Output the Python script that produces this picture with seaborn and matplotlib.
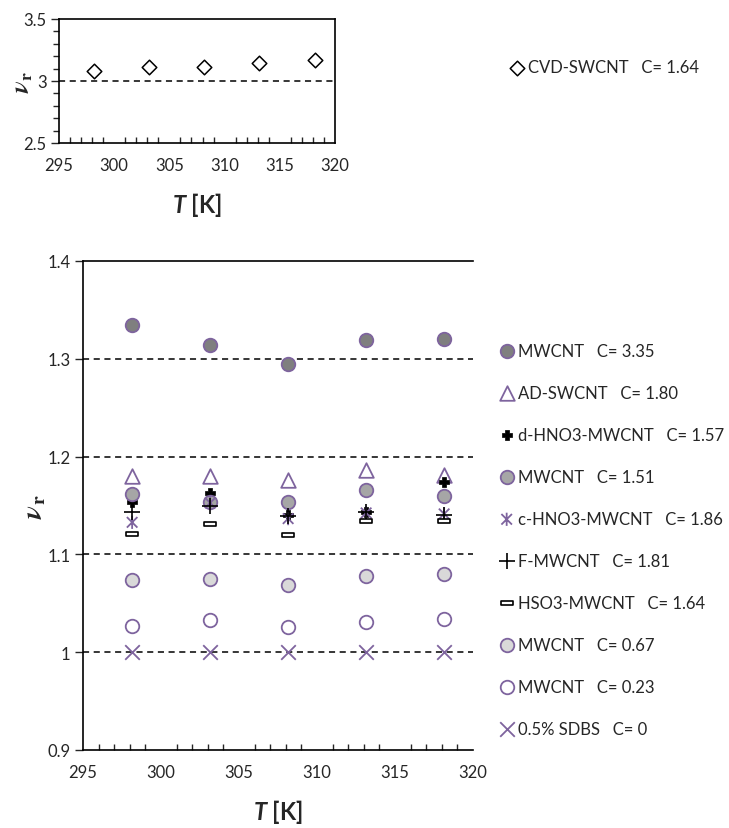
import numpy as np
import pandas as pd
import matplotlib
matplotlib.use("Agg")
import matplotlib.pyplot as plt
from matplotlib.path import Path
from matplotlib.ticker import MultipleLocator
import seaborn as sns

sns.set_style("white")
plt.rcParams['font.family'] = ['Lato', 'DejaVu Sans']
plt.rcParams['mathtext.fontset'] = 'custom'
plt.rcParams['mathtext.rm'] = 'Lato:bold'
plt.rcParams['mathtext.bf'] = 'Lato:bold'
plt.rcParams['mathtext.it'] = 'Lato:italic:bold'

# ---------------- data ----------------
T = [298.15, 303.15, 308.15, 313.15, 318.15]

cvd_swcnt = [3.083, 3.115, 3.115, 3.145, 3.167]

mwcnt_335 = [1.335, 1.3145, 1.295, 1.319, 1.3205]
ad_swcnt = [1.180, 1.1805, 1.1758, 1.1868, 1.1813]
d_hno3 = [1.154, 1.163, 1.140, 1.143, 1.1738]
mwcnt_151 = [1.1622, 1.1533, 1.1537, 1.166, 1.1594]
c_hno3 = [1.1328, 1.1527, 1.1366, 1.1424, 1.1414]
f_mwcnt = [1.1434, 1.150, 1.1397, 1.143, 1.1407]
hso3 = [1.1212, 1.1315, 1.1202, 1.1346, 1.1338]
mwcnt_067 = [1.0738, 1.0744, 1.069, 1.0779, 1.080]
mwcnt_023 = [1.0273, 1.0328, 1.0256, 1.0307, 1.0341]
sdbs = [1.0, 1.0, 1.0, 1.0, 1.0]

labels_top = ["CVD-SWCNT   C= 1.64"]
labels_bottom = ["MWCNT   C= 3.35", "AD-SWCNT   C= 1.80", "d-HNO3-MWCNT   C= 1.57",
                 "MWCNT   C= 1.51", "c-HNO3-MWCNT   C= 1.86", "F-MWCNT   C= 1.81",
                 "HSO3-MWCNT   C= 1.64", "MWCNT   C= 0.67", "MWCNT   C= 0.23",
                 "0.5% SDBS   C= 0"]

# ---------------- styles ----------------
purple = '#7E649E'
asterisk = Path([(-1, -1), (1, 1), (-1, 1), (1, -1), (0, -1.25), (0, 1.25)],
                [Path.MOVETO, Path.LINETO, Path.MOVETO, Path.LINETO, Path.MOVETO, Path.LINETO])
bar = Path([(-1, -0.32), (1, -0.32), (1, 0.32), (-1, 0.32), (-1, -0.32)],
           [Path.MOVETO, Path.LINETO, Path.LINETO, Path.LINETO, Path.CLOSEPOLY])

fig = plt.figure(figsize=(7.29, 8.29), dpi=100)
ax1 = fig.add_axes([59/729, 1-144/829, 276/729, 124/829])
ax2 = fig.add_axes([83/729, 1-751/829, 390/729, 489/829])

# top chart
sns.scatterplot(x=T, y=cvd_swcnt, ax=ax1, marker='D', s=55, facecolor='white',
                edgecolor='black', linewidth=1.1, label=labels_top[0], zorder=3)

series = [
    (mwcnt_335, dict(marker='o', s=95, facecolor='#7F7F7F', edgecolor=purple, linewidth=1.3)),
    (ad_swcnt, dict(marker='^', s=110, facecolor='white', edgecolor=purple, linewidth=1.3)),
    (d_hno3, dict(marker='P', s=45, facecolor='black', edgecolor='black', linewidth=0.5)),
    (mwcnt_151, dict(marker='o', s=95, facecolor='#A6A6A6', edgecolor=purple, linewidth=1.3)),
    (c_hno3, dict(marker=asterisk, s=90, facecolor='none', edgecolor=purple, linewidth=1.3)),
    (f_mwcnt, dict(marker='+', s=140, color='black', linewidth=1.2)),
    (hso3, dict(marker=bar, s=70, facecolor='white', edgecolor='black', linewidth=1.2)),
    (mwcnt_067, dict(marker='o', s=95, facecolor='#D9D9D9', edgecolor=purple, linewidth=1.3)),
    (mwcnt_023, dict(marker='o', s=95, facecolor='white', edgecolor=purple, linewidth=1.3)),
    (sdbs, dict(marker='x', s=110, color=purple, linewidth=1.3)),
]
for (vals, kw), lab in zip(series, labels_bottom):
    sns.scatterplot(x=T, y=vals, ax=ax2, label=lab, zorder=3, **kw)

tick_fs = 12
for ax, yfs in ((ax1, 18), (ax2, 20)):
    ax.set_xlim(295, 320)
    ax.xaxis.set_major_locator(MultipleLocator(5))
    ax.xaxis.set_minor_locator(MultipleLocator(1))
    ax.tick_params(axis='x', which='major', direction='inout', length=8, width=1, labelsize=tick_fs, pad=6)
    ax.tick_params(axis='x', which='minor', direction='in', length=4, width=1, bottom=True)
    ax.tick_params(axis='y', which='major', direction='out', length=6, width=1, labelsize=tick_fs, left=True, pad=3)
    ax.set_xlabel(r'$\mathit{T}$ [K]', fontsize=17, fontweight='bold', labelpad=12)
    ax.set_ylabel(r'$\boldsymbol{\nu}_{\mathbf{r}}$', fontsize=yfs, math_fontfamily='stix')
    ax.legend_.remove()
    for sp in ax.spines.values():
        sp.set_color('black')
        sp.set_linewidth(1.2)

ax1.yaxis.set_label_coords(-0.088, 0.5)
ax2.yaxis.set_label_coords(-0.09, 0.5)

ax1.set_ylim(2.5, 3.5)
ax1.yaxis.set_major_locator(MultipleLocator(0.5))
ax1.yaxis.set_minor_locator(MultipleLocator(0.1))
ax1.tick_params(axis='y', which='minor', direction='out', length=4, width=1, left=True)
ax1.set_yticks([2.5, 3, 3.5])
ax1.set_yticklabels(['2.5', '3', '3.5'])
ax1.axhline(3.0, color='black', linestyle=(0, (4, 3)), linewidth=1.1, zorder=1)

ax2.set_ylim(0.9, 1.4)
ax2.set_yticks([0.9, 1.0, 1.1, 1.2, 1.3, 1.4])
ax2.set_yticklabels(['0.9', '1', '1.1', '1.2', '1.3', '1.4'])
for yv in [1.0, 1.1, 1.2, 1.3]:
    ax2.axhline(yv, color='black', linestyle=(0, (4, 3)), linewidth=1.1, zorder=1)
ax2.spines['right'].set_visible(False)

h1, l1 = ax1.get_legend_handles_labels()
fig.legend(h1, l1, loc='center left', bbox_to_anchor=(500/729, 1-68/829), frameon=False,
           fontsize=12, handletextpad=0.1, handlelength=1.2, borderaxespad=0)
h2, l2 = ax2.get_legend_handles_labels()
fig.legend(h2, l2, loc='upper left', bbox_to_anchor=(490/729, 1-337/829), frameon=False,
           fontsize=12, handletextpad=0.1, handlelength=1.2, labelspacing=1.56, borderaxespad=0)

fig.savefig('out.png', dpi=100)
